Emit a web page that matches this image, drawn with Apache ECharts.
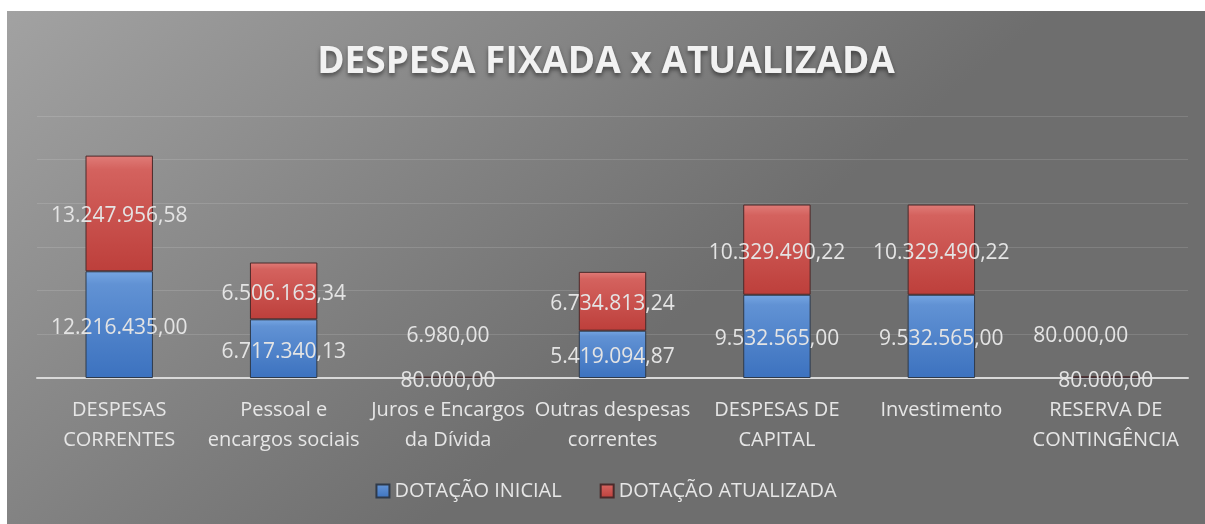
<!DOCTYPE html>
<html>
<head>
<meta charset="utf-8">
<script src="https://cdn.jsdelivr.net/npm/echarts@6/dist/echarts.min.js"></script>
<style>
  html, body { margin: 0; padding: 0; background: #fff; }
  #chart { position: absolute; left: 7px; top: 11px; width: 1198px; height: 513px; }
</style>
</head>
<body>
<div id="chart"></div>
<script>
const categories = [
  'DESPESAS\nCORRENTES',
  'Pessoal e\nencargos sociais',
  'Juros e Encargos\nda Dívida',
  'Outras despesas\ncorrentes',
  'DESPESAS DE\nCAPITAL',
  'Investimento',
  'RESERVA DE\nCONTINGÊNCIA'
]
const dotacaoInicial = [12216435.00, 6717340.13, 80000.00, 5419094.87, 9532565.00, 9532565.00, 80000.00]
const dotacaoAtualizada = [13247956.58, 6506163.34, 6980.00, 6734813.24, 10329490.22, 10329490.22, 80000.00]

// valores pequenos: rótulo deslocado como no original
const redLabelShift = { 2: [0, -41], 6: [-25, -41] }

const fmt = v => v.toLocaleString('pt-BR', { minimumFractionDigits: 2, maximumFractionDigits: 2 })

const myChart = echarts.init(document.getElementById('chart'))

const labelStyle = {
  show: true,
  position: 'inside',
  offset: [0, 3],
  color: '#e4e4e4',
  fontFamily: 'Open Sans',
  fontSize: 21,
  formatter: p => fmt(p.value)
}

const option = {
  backgroundColor: new echarts.graphic.LinearGradient(0, 0, 0.35, 1, [
    { offset: 0, color: '#a2a2a2' },
    { offset: 1, color: '#6e6e6e' }
  ]),
  title: {
    text: 'DESPESA FIXADA x ATUALIZADA',
    left: 'center',
    top: 28,
    textStyle: {
      color: '#f2f2f2',
      fontFamily: 'Open Sans',
      fontWeight: 'bold',
      fontSize: 37,
      textShadowColor: 'rgba(0,0,0,0.45)',
      textShadowBlur: 4,
      textShadowOffsetY: 3
    }
  },
  legend: {
    bottom: 18,
    left: 'center',
    itemWidth: 13,
    itemHeight: 13,
    itemGap: 38,
    icon: 'rect',
    textStyle: { color: '#e6e6e6', fontFamily: 'Open Sans', fontSize: 20 }
  },
  grid: { left: 30, right: 17, top: 105, bottom: 146 },
  xAxis: {
    type: 'category',
    data: categories,
    axisLine: { lineStyle: { color: '#d9d9d9', width: 2 } },
    axisTick: { show: false },
    axisLabel: {
      color: '#e6e6e6',
      fontFamily: 'Open Sans',
      fontSize: 20,
      lineHeight: 30,
      margin: 17,
      interval: 0
    }
  },
  yAxis: {
    type: 'value',
    min: 0,
    max: 30000000,
    interval: 5000000,
    axisLabel: { show: false },
    axisLine: { show: false },
    axisTick: { show: false },
    splitLine: { lineStyle: { color: 'rgba(255,255,255,0.13)', width: 1 } }
  },
  series: [
    {
      name: 'DOTAÇÃO INICIAL',
      type: 'bar',
      stack: 'total',
      barWidth: '41%',
      data: dotacaoInicial,
      label: labelStyle,
      itemStyle: {
        color: new echarts.graphic.LinearGradient(0, 0, 0, 1, [
          { offset: 0, color: '#76a6e2' },
          { offset: 0.12, color: '#6192d4' },
          { offset: 1, color: '#3c72bf' }
        ]),
        borderColor: '#2f3a4a',
        borderWidth: 1
      }
    },
    {
      name: 'DOTAÇÃO ATUALIZADA',
      type: 'bar',
      stack: 'total',
      barWidth: '41%',
      data: dotacaoAtualizada.map((v, i) => redLabelShift[i]
        ? { value: v, label: { offset: redLabelShift[i] } }
        : v),
      label: labelStyle,
      itemStyle: {
        color: new echarts.graphic.LinearGradient(0, 0, 0, 1, [
          { offset: 0, color: '#e07c78' },
          { offset: 0.12, color: '#d4625e' },
          { offset: 1, color: '#bd3f3b' }
        ]),
        borderColor: '#4a2a2a',
        borderWidth: 1
      }
    }
  ]
}

option && myChart.setOption(option)
</script>
</body>
</html>
